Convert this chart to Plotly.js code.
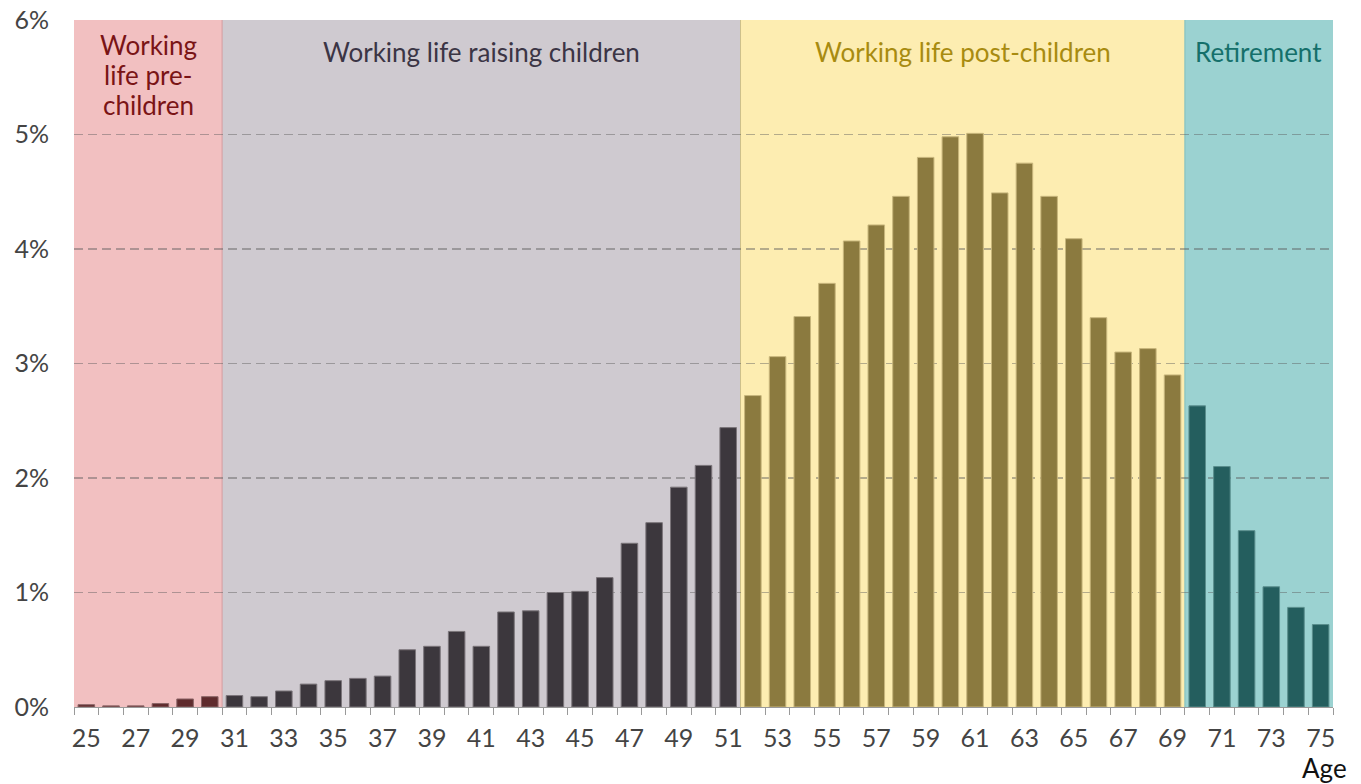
<!DOCTYPE html>
<html>
<head>
<meta charset="utf-8">
<script src="https://cdn.plot.ly/plotly-3.0.1.min.js"></script>
<style>html,body{margin:0;padding:0;background:#fff;}#chart{width:1361px;height:784px;}</style>
</head>
<body>
<div id="chart"></div>
<script>
// Ages (x categories)
const ages = [25,26,27,28,29,30,31,32,33,34,35,36,37,38,39,40,41,42,43,44,45,46,47,48,49,50,
              51,52,53,54,55,56,57,58,59,60,61,62,63,64,65,66,67,68,69,70,71,72,73,74,75];
// Share (%) per age
const shares = [0.02,0.01,0.01,0.03,0.07,0.09,0.10,0.09,0.14,0.20,0.23,0.25,0.27,0.50,0.53,0.66,0.53,0.83,0.84,1.00,1.01,1.13,1.43,1.61,1.92,2.11,
                2.44,2.72,3.06,3.41,3.70,4.07,4.21,4.46,4.80,4.98,5.01,4.49,4.75,4.46,4.09,3.40,3.10,3.13,2.90,2.63,2.10,1.54,1.05,0.87,0.72];
// Life phases: labels, first and last age
const phaseLabels = ["Working<br>life pre-<br>children","Working life raising children","Working life post-children","Retirement"];
const phaseStart = [25,31,52,70];
const phaseEnd   = [30,51,69,75];
const yTicks = [0,1,2,3,4,5,6];
const xTicks = [25,27,29,31,33,35,37,39,41,43,45,47,49,51,53,55,57,59,61,63,65,67,69,71,73,75];

const bgColors   = ["#f2c0c1","#cfcad0","#fdedb1","#9bd2d1"];
const edgeColors = ["#d49a9e","#e3d7b0","#cdbf8a","#7fbdbc"];
const barColors  = ["#5f2b2d","#3c373d","#8b7a3f","#245e5e"];
const barLines   = ["#8a6466","#7b757a","#c8b67c","#5a8e8d"];
const textColors = ["#7a1416","#3b3545","#a88b10","#15706b"];
const FONT = 'Lato, sans-serif';

function phaseOf(a){ for(let i=0;i<phaseStart.length;i++){ if(a>=phaseStart[i] && a<=phaseEnd[i]) return i; } return 0; }

const traces = phaseLabels.map((lab,i)=>{
  const xs=[], ys=[];
  ages.forEach((a,k)=>{ if(phaseOf(a)===i){ xs.push(a); ys.push(shares[k]); } });
  return {type:'bar', x:xs, y:ys, name:lab.replace(/<br>/g,' '), width:0.67,
    marker:{color:barColors[i], line:{color:barLines[i], width:1}},
    hovertemplate:'Age %{x}: %{y:.2f}%<extra></extra>'};
});

const shapes = [];
phaseLabels.forEach((lab,i)=>{
  shapes.push({type:'rect', xref:'x', yref:'y', layer:'below',
    x0:phaseStart[i]-0.5, x1:phaseEnd[i]+0.5, y0:0, y1:6,
    fillcolor:bgColors[i], line:{width:0}});
});
for(let i=1;i<phaseStart.length;i++){
  shapes.push({type:'line', xref:'x', yref:'y', layer:'below',
    x0:phaseStart[i]-0.5, x1:phaseStart[i]-0.5, y0:0, y1:6,
    line:{color:edgeColors[i-1===0?0:i], width:1}});
}

const annotations = [];
phaseLabels.forEach((lab,i)=>{
  const lines = lab.split('<br>');
  lines.forEach((ln,j)=>{
    annotations.push({xref:'x', yref:'y', x:(phaseStart[i]+phaseEnd[i])/2, y:6,
      yanchor:'middle', yshift:(lines.length>1 ? -25 - 30*j : -32), text:ln, showarrow:false, align:'center',
      font:{family:FONT, size:26, color:textColors[i]}});
  });
});
annotations.push({xref:'paper', yref:'paper', x:1, y:0, xanchor:'right', yanchor:'middle', yshift:-61, xshift:16,
  text:'Age', showarrow:false, font:{family:FONT, size:26, color:'#111'}});

const layout = {
  width:1361, height:784,
  margin:{l:74, r:28, t:20, b:77},
  paper_bgcolor:'#fff', plot_bgcolor:'rgba(0,0,0,0)',
  showlegend:false, barmode:'overlay',
  font:{family:FONT, size:25, color:'#444'},
  xaxis:{type:'linear', range:[24.5,75.5], tickvals:xTicks, ticktext:xTicks.map(String),
    ticks:'outside', ticklen:9, tickcolor:'rgba(0,0,0,0)',
    minor:{tick0:24.5, dtick:1, ticks:'outside', ticklen:7, tickcolor:'#999', tickwidth:1, showgrid:false},
    showline:true, linecolor:'#999', linewidth:1, showgrid:false, zeroline:false,
    tickfont:{family:FONT, size:25, color:'#444'}, fixedrange:true},
  yaxis:{range:[0,6], tickvals:yTicks, ticktext:yTicks.map(v=>v+'%'),
    showgrid:true, gridcolor:'rgba(90,90,90,0.45)', griddash:'9px,5px', gridwidth:1.3,
    zeroline:false, showline:false, ticks:'', ticklabelstandoff:24,
    tickfont:{family:FONT, size:25, color:'#444'}, fixedrange:true},
  shapes:shapes, annotations:annotations
};

Plotly.newPlot('chart', traces, layout, {displayModeBar:false, staticPlot:true});
</script>
</body>
</html>
